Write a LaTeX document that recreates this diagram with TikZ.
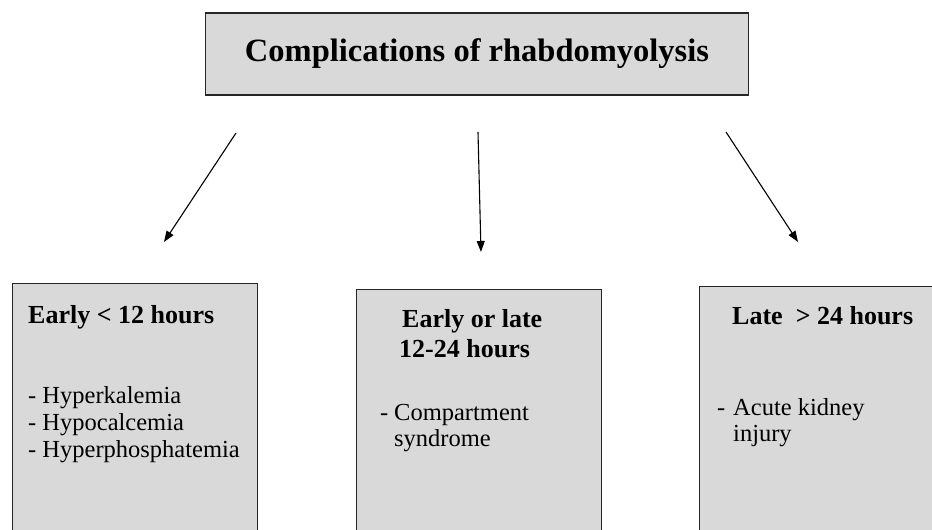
\documentclass[tikz,border=0pt]{standalone}
\usepackage{fontspec}
\setmainfont{Liberation Serif}
\usepackage{tikz}
\usetikzlibrary{arrows.meta,positioning}
\definecolor{cpfill}{HTML}{D9D9D9}
\definecolor{cpline}{HTML}{262626}
\tikzset{
  titlebox/.style={draw=cpline,line width=1.4pt,fill=cpfill,minimum width=543pt,
              minimum height=82pt,inner sep=0pt,font=\fontsize{32.5}{38}\selectfont\bfseries},
  phasebox/.style={draw=cpline,line width=1.4pt,fill=cpfill,anchor=north west,
              minimum width=245pt,minimum height=270pt,inner sep=0pt},
  phasehd/.style={anchor=base west,inner sep=0pt,font=\fontsize{26}{30}\selectfont\bfseries},
  phaseitem/.style={anchor=base west,inner sep=0pt,font=\fontsize{24.5}{27}\selectfont},
  flow/.style={-{Triangle[length=11pt,width=8pt]},line width=1.1pt,draw=black},
}

\begin{document}
\begin{tikzpicture}[x=1pt,y=-1pt]
  \useasboundingbox (0,0) rectangle (932,530);
  \clip (0,0) rectangle (932,530);

  \node[titlebox] (title) at (477,54) {Complications of rhabdomyolysis};

  % the three phases
  \node[phasebox] (early) at (12,283) {};
  \node[phasebox] (mid)   at (356,289) {};
  \node[phasebox] (late)  at (699,286) {};

  \node[phasehd] (earlyhd) at (28,323) {Early < 12 hours};
  \node[phaseitem] (hyperk) at (28,403) {- Hyperkalemia};
  \node[phaseitem] (hypoc)  at (28,430) {- Hypocalcemia};
  \node[phaseitem] (hyperp) at (28,457) {- Hyperphosphatemia};

  \node[phasehd] (midhd)  at (402,327) {Early or late};
  \node[phasehd] (midhdb) at (399,357) {12-24 hours};
  \node[phaseitem] (cdash) at (380,420) {-};
  \node[phaseitem] (comp)  at (394,420) {Compartment};
  \node[phaseitem] (synd)  at (394,446) {syndrome};

  \node[phasehd] (latehd) at (732,324) {Late\ \ > 24 hours};
  \node[phaseitem] (kdash) at (717,415) {-};
  \node[phaseitem] (aki)   at (733,415) {Acute kidney};
  \node[phaseitem] (inj)   at (733,441) {injury};

  % arrows
  \coordinate (a1s) at (236,133);
  \coordinate (a1e) at (164,242);
  \coordinate (a2s) at (478,132);
  \coordinate (a2e) at (481,252);
  \coordinate (a3s) at (726,132);
  \coordinate (a3e) at (798,242);
  \draw[flow] (a1s) -- (a1e);
  \draw[flow] (a2s) -- (a2e);
  \draw[flow] (a3s) -- (a3e);
\end{tikzpicture}
\end{document}
